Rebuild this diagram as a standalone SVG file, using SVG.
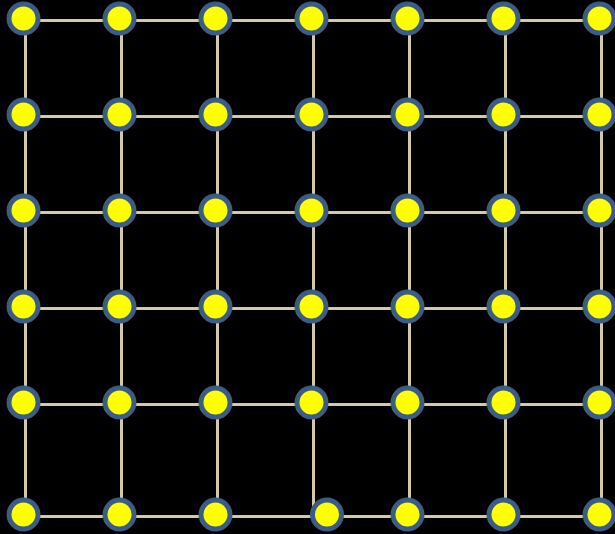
<svg xmlns="http://www.w3.org/2000/svg" width="615" height="534" viewBox="0 0 615 534">
<style>
.e{stroke:#d2c9a5;stroke-width:3;fill:none}
.n{fill:#ffff00;stroke:#3b5c86;stroke-width:5}
</style>
<rect width="615" height="534" fill="#000"/>
<g id="connectors">
<path class="e" d="M25 20.5H601M25 116.5H601M25 212.5H601M25 308.5H601M25 404.5H601M25 516.5H601M25.5 20V516M121.5 20V516M217.5 20V516M313.5 20V516M409.5 20V516M505.5 20V516M601.5 20V516"/>
</g>
<g id="nodes">
<g id="r0"><circle class="n" cx="23.5" cy="18.5" r="14.5"/><circle class="n" cx="119.5" cy="18.5" r="14.5"/><circle class="n" cx="215.5" cy="18.5" r="14.5"/><circle class="n" cx="311.5" cy="18.5" r="14.5"/><circle class="n" cx="407.5" cy="18.5" r="14.5"/><circle class="n" cx="503.5" cy="18.5" r="14.5"/><circle class="n" cx="599.5" cy="18.5" r="14.5"/></g>
<g id="r1"><circle class="n" cx="23.5" cy="114.5" r="14.5"/><circle class="n" cx="119.5" cy="114.5" r="14.5"/><circle class="n" cx="215.5" cy="114.5" r="14.5"/><circle class="n" cx="311.5" cy="114.5" r="14.5"/><circle class="n" cx="407.5" cy="114.5" r="14.5"/><circle class="n" cx="503.5" cy="114.5" r="14.5"/><circle class="n" cx="599.5" cy="114.5" r="14.5"/></g>
<g id="r2"><circle class="n" cx="23.5" cy="210.5" r="14.5"/><circle class="n" cx="119.5" cy="210.5" r="14.5"/><circle class="n" cx="215.5" cy="210.5" r="14.5"/><circle class="n" cx="311.5" cy="210.5" r="14.5"/><circle class="n" cx="407.5" cy="210.5" r="14.5"/><circle class="n" cx="503.5" cy="210.5" r="14.5"/><circle class="n" cx="599.5" cy="210.5" r="14.5"/></g>
<g id="r3"><circle class="n" cx="23.5" cy="306.5" r="14.5"/><circle class="n" cx="119.5" cy="306.5" r="14.5"/><circle class="n" cx="215.5" cy="306.5" r="14.5"/><circle class="n" cx="311.5" cy="306.5" r="14.5"/><circle class="n" cx="407.5" cy="306.5" r="14.5"/><circle class="n" cx="503.5" cy="306.5" r="14.5"/><circle class="n" cx="599.5" cy="306.5" r="14.5"/></g>
<g id="r4"><circle class="n" cx="23.5" cy="402.5" r="14.5"/><circle class="n" cx="119.5" cy="402.5" r="14.5"/><circle class="n" cx="215.5" cy="402.5" r="14.5"/><circle class="n" cx="311.5" cy="402.5" r="14.5"/><circle class="n" cx="407.5" cy="402.5" r="14.5"/><circle class="n" cx="503.5" cy="402.5" r="14.5"/><circle class="n" cx="599.5" cy="402.5" r="14.5"/></g>
<g id="r5"><circle class="n" cx="23.5" cy="514.5" r="14.5"/><circle class="n" cx="119.5" cy="514.5" r="14.5"/><circle class="n" cx="215.5" cy="514.5" r="14.5"/><circle class="n" cx="327" cy="514.5" r="14.5"/><circle class="n" cx="407.5" cy="514.5" r="14.5"/><circle class="n" cx="503.5" cy="514.5" r="14.5"/><circle class="n" cx="599.5" cy="514.5" r="14.5"/></g>
</g>
</svg>
